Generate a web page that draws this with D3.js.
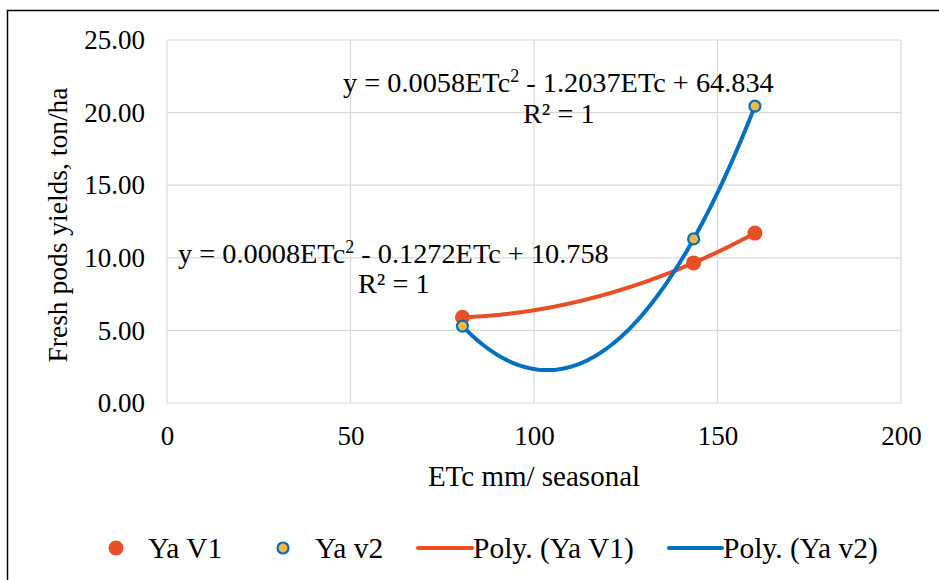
<!DOCTYPE html>
<meta charset="utf-8">
<script src="https://d3js.org/d3.v7.min.js"></script>
<style>
  body { margin: 0; background: #fff; }
  svg text { font-family: "Liberation Serif", "Times New Roman", serif !important; fill: #000; }
</style>
<div id="chart"></div>
<script>
// data
const etc = [80.5, 143.5, 160.2];
const yaV1 = [5.9, 9.65, 11.7];
const yaV2 = [5.3, 11.3, 20.45];
const xTicks = [0, 50, 100, 150, 200];
const yTicks = [0, 5, 10, 15, 20, 25];
const legendNames = ["Ya V1", "Ya v2", "Poly. (Ya V1)", "Poly. (Ya v2)"];

const orange = "#e84f24", blue = "#0070c0", gold = "#fbb73d";
const serif = "Liberation Serif";

var W = 939, H = 580;
var svg = d3.select("#chart").append("svg").attr("width", W).attr("height", H)
  .attr("font-family", serif);

// chart frame (right and bottom edges run off the picture)
svg.append("rect")
  .attr("x", 7.5).attr("y", 10.5).attr("width", 940).attr("height", 580)
  .attr("fill", "none").attr("stroke", "#000").attr("stroke-width", 1.5);

var x = d3.scaleLinear().domain([0, 200]).range([167, 901]);
var y = d3.scaleLinear().domain([0, 25]).range([403, 40]);

// grid
svg.append("g").selectAll("line").data(xTicks).enter().append("line")
  .attr("x1", d => x(d)).attr("x2", d => x(d))
  .attr("y1", y(0)).attr("y2", y(25))
  .attr("stroke", "#d9d9d9").attr("stroke-width", 1.2);
svg.append("g").selectAll("line").data(yTicks).enter().append("line")
  .attr("x1", x(0)).attr("x2", x(200))
  .attr("y1", d => y(d)).attr("y2", d => y(d))
  .attr("stroke", "#d9d9d9").attr("stroke-width", 1.2);

// axes labels via d3 axes, no ticks / domain
var xAxis = svg.append("g").attr("transform", "translate(0," + 420 + ")")
  .call(d3.axisBottom(x).tickValues(xTicks).tickSize(0).tickPadding(6).tickFormat(d3.format("d")));
var yAxis = svg.append("g").attr("transform", "translate(" + 155 + ",0)")
  .call(d3.axisLeft(y).tickValues(yTicks).tickSize(0).tickPadding(10).tickFormat(d3.format(".2f")));
[xAxis, yAxis].forEach(function(a) {
  a.attr("font-family", serif).attr("font-size", null);
  a.select(".domain").remove();
  a.selectAll("text").style("font-size", "27px").attr("fill", "#000");
});

svg.append("text").attr("x", 534).attr("y", 486).attr("text-anchor", "middle")
  .style("font-size", "29px").text("ETc mm/ seasonal");
svg.append("text").attr("transform", "translate(67,225) rotate(-90)").attr("text-anchor", "middle")
  .style("font-size", "27.5px").text("Fresh pods yields, ton/ha");

// polynomial trendline through the points (order 2, R² = 1)
function quad(xs, ys) {
  return function(t) {
    var s = 0;
    for (var i = 0; i < 3; i++) {
      var p = ys[i];
      for (var j = 0; j < 3; j++) if (j !== i) p *= (t - xs[j]) / (xs[i] - xs[j]);
      s += p;
    }
    return s;
  };
}
function trend(ys) {
  var f = quad(etc, ys), pts = [];
  var lo = d3.min(etc), hi = d3.max(etc);
  for (var k = 0; k <= 100; k++) { var t = lo + (hi - lo) * k / 100; pts.push([t, f(t)]); }
  return pts;
}
var line = d3.line().x(d => x(d[0])).y(d => y(d[1]));

svg.append("path").datum(trend(yaV1)).attr("d", line)
  .attr("fill", "none").attr("stroke", orange).attr("stroke-width", 4).attr("stroke-linecap", "round");
svg.append("path").datum(trend(yaV2)).attr("d", line)
  .attr("fill", "none").attr("stroke", blue).attr("stroke-width", 4).attr("stroke-linecap", "round");

svg.append("g").selectAll("circle").data(etc).enter().append("circle")
  .attr("cx", d => x(d)).attr("cy", (d, i) => y(yaV1[i])).attr("r", 7.5)
  .attr("fill", orange);
svg.append("g").selectAll("circle").data(etc).enter().append("circle")
  .attr("cx", d => x(d)).attr("cy", (d, i) => y(yaV2[i])).attr("r", 5.5)
  .attr("fill", gold).attr("stroke", blue).attr("stroke-width", 2.2);

// equations
function eq(xp, yp, a, b) {
  var t = svg.append("text").attr("x", xp).attr("y", yp).style("font-size", "28.3px");
  t.append("tspan").text("y = " + a + "ETc");
  t.append("tspan").attr("dy", -10).style("font-size", "18px").text("2");
  t.append("tspan").attr("dy", 10).text(" - " + b);
}
eq(343, 92, "0.0058", "1.2037ETc + 64.834");
svg.append("text").attr("x", 523).attr("y", 123).style("font-size", "28.3px").text("R² = 1");
eq(178, 263, "0.0008", "0.1272ETc + 10.758");
svg.append("text").attr("x", 358).attr("y", 293).style("font-size", "28.3px").text("R² = 1");

// legend
var lg = svg.append("g").style("font-size", "29.5px");
lg.append("circle").attr("cx", 116).attr("cy", 548).attr("r", 7.5).attr("fill", orange);
lg.append("text").attr("x", 148).attr("y", 558).text(legendNames[0]);
lg.append("circle").attr("cx", 283).attr("cy", 548).attr("r", 5.5).attr("fill", gold).attr("stroke", blue).attr("stroke-width", 2.2);
lg.append("text").attr("x", 315).attr("y", 558).text(legendNames[1]);
lg.append("line").attr("x1", 418).attr("x2", 472).attr("y1", 548).attr("y2", 548)
  .attr("stroke", orange).attr("stroke-width", 4).attr("stroke-linecap", "round");
lg.append("text").attr("x", 473).attr("y", 558).text(legendNames[2]);
lg.append("line").attr("x1", 669).attr("x2", 722).attr("y1", 548).attr("y2", 548)
  .attr("stroke", blue).attr("stroke-width", 4).attr("stroke-linecap", "round");
lg.append("text").attr("x", 723).attr("y", 558).text(legendNames[3]);
</script>
